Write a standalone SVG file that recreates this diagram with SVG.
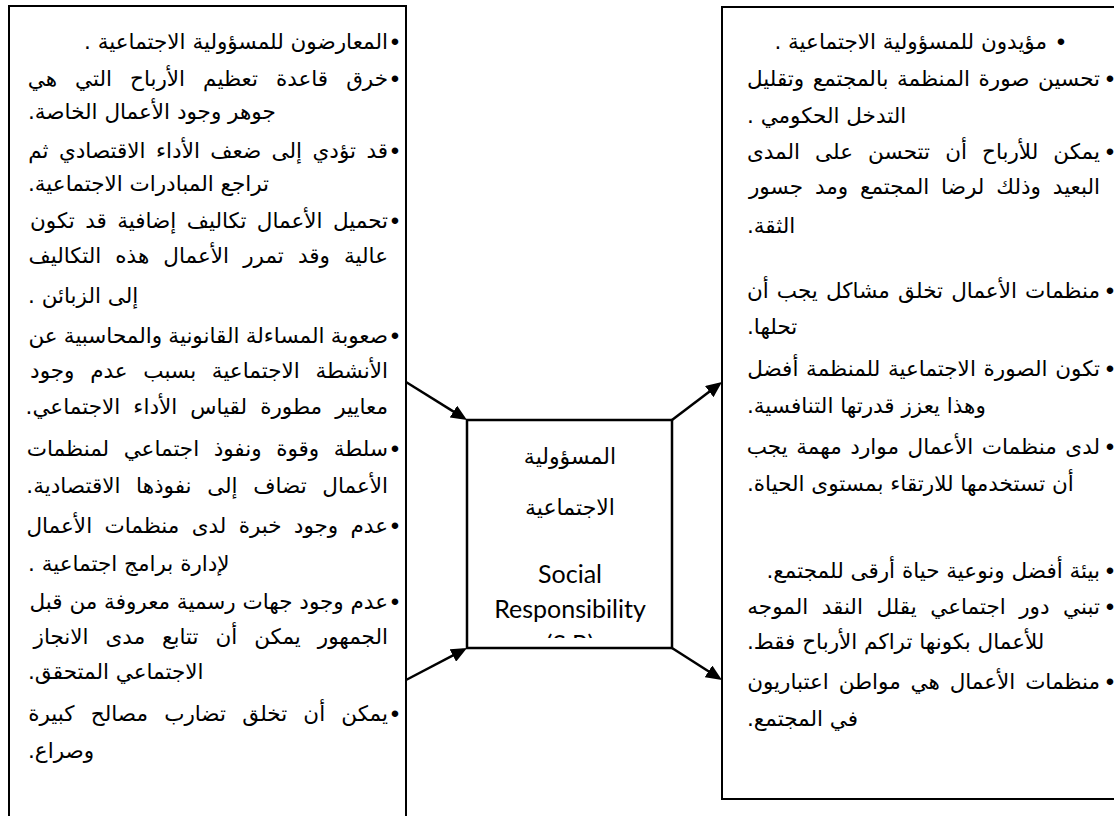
<svg xmlns="http://www.w3.org/2000/svg" width="1114" height="816" viewBox="0 0 1114 816">
<style>
.box{fill:#fff;stroke:#000;stroke-width:2}
.cbox{fill:#fff;stroke:#000;stroke-width:2.5}
.ar{font-family:"DejaVu Sans","Noto Sans",sans-serif;font-size:21.5px;fill:#000;direction:rtl;unicode-bidi:embed;text-anchor:start}
.al{font-family:"DejaVu Sans","Noto Sans",sans-serif;font-size:21.5px;fill:#000;direction:rtl;unicode-bidi:embed;text-anchor:end}
.bl{font-family:"Liberation Sans",sans-serif;font-size:24px;fill:#000;text-anchor:middle}
.car{font-family:"DejaVu Sans","Noto Sans",sans-serif;font-size:22px;fill:#000;text-anchor:middle;direction:rtl;unicode-bidi:embed}
.en{font-family:Lato,"Open Sans",sans-serif;font-size:25px;fill:#000;text-anchor:middle}
.conn{stroke:#000;stroke-width:2.5;fill:none;marker-end:url(#ah)}
</style>
<defs>
<marker id="ah" markerUnits="userSpaceOnUse" viewBox="0 0 16 14" refX="12" refY="7" markerWidth="16" markerHeight="14" orient="auto">
<path d="M0,0 L16,7 L0,14 z" fill="#000"/>
</marker>
<clipPath id="cclip"><rect x="468" y="421" width="203" height="217"/></clipPath>
</defs>
<rect width="1114" height="816" fill="#fff"/>

<g id="opponents">
<rect class="box" x="9" y="6" width="397" height="830"/>
<text class="bl" x="395" y="50">•</text><text class="ar" x="388" y="49">المعارضون للمسؤولية الاجتماعية .</text>
<text class="bl" x="395" y="87">•</text><text class="ar" x="388" y="86" word-spacing="11.2">خرق قاعدة تعظيم الأرباح التي هي</text>
<text class="al" x="28" y="119">جوهر وجود الأعمال الخاصة.</text>
<text class="bl" x="395" y="159">•</text><text class="ar" x="388" y="158" word-spacing="3.6">قد تؤدي إلى ضعف الأداء الاقتصادي ثم</text>
<text class="al" x="28" y="191">تراجع المبادرات الاجتماعية.</text>
<text class="bl" x="395" y="229">•</text><text class="ar" x="388" y="228" word-spacing="3.6">تحميل الأعمال تكاليف إضافية قد تكون</text>
<text class="ar" x="388" y="263" word-spacing="7.3">عالية وقد تمرر الأعمال هذه التكاليف</text>
<text class="al" x="28" y="303">إلى الزبائن .</text>
<text class="bl" x="395" y="344">•</text><text class="ar" x="388" y="343" word-spacing="-0.6">صعوبة المساءلة القانونية والمحاسبية عن</text>
<text class="ar" x="388" y="378" word-spacing="8.9">الأنشطة الاجتماعية بسبب عدم وجود</text>
<text class="ar" x="388" y="414" word-spacing="6.3">معايير مطورة لقياس الأداء الاجتماعي.</text>
<text class="bl" x="395" y="457">•</text><text class="ar" x="388" y="456" word-spacing="7.7">سلطة وقوة ونفوذ اجتماعي لمنظمات</text>
<text class="ar" x="388" y="493" word-spacing="8.8">الأعمال تضاف إلى نفوذها الاقتصادية.</text>
<text class="bl" x="395" y="534">•</text><text class="ar" x="388" y="533" word-spacing="5.5">عدم وجود خبرة لدى منظمات الأعمال</text>
<text class="al" x="28" y="571">لإدارة برامج اجتماعية .</text>
<text class="bl" x="395" y="610">•</text><text class="ar" x="388" y="609" word-spacing="0">عدم وجود جهات رسمية معروفة من قبل</text>
<text class="ar" x="388" y="644" word-spacing="10.1">الجمهور يمكن أن تتابع مدى الانجاز</text>
<text class="al" x="28" y="679">الاجتماعي المتحقق.</text>
<text class="bl" x="395" y="722">•</text><text class="ar" x="388" y="721" word-spacing="9.4">يمكن أن تخلق تضارب مصالح كبيرة</text>
<text class="al" x="28" y="758">وصراع.</text>
</g>

<g id="supporters">
<rect class="box" x="722" y="7" width="410" height="792"/>
<text class="bl" x="1061" y="50">•</text><text class="ar" x="1047" y="49">مؤيدون للمسؤولية الاجتماعية .</text>
<text class="bl" x="1110" y="87">•</text><text class="ar" x="1100" y="86" word-spacing="1.7">تحسين صورة المنظمة بالمجتمع وتقليل</text>
<text class="al" x="747" y="123">التدخل الحكومي .</text>
<text class="bl" x="1110" y="160">•</text><text class="ar" x="1100" y="159" word-spacing="8.3">يمكن للأرباح أن تتحسن على المدى</text>
<text class="ar" x="1100" y="194" word-spacing="5.1">البعيد وذلك لرضا المجتمع ومد جسور</text>
<text class="al" x="747" y="233">الثقة.</text>
<text class="bl" x="1110" y="299">•</text><text class="ar" x="1100" y="298" word-spacing="1.4">منظمات الأعمال تخلق مشاكل يجب أن</text>
<text class="al" x="747" y="334">تحلها.</text>
<text class="bl" x="1110" y="377">•</text><text class="ar" x="1100" y="376" word-spacing="0.9">تكون الصورة الاجتماعية للمنظمة أفضل</text>
<text class="al" x="747" y="413">وهذا يعزز قدرتها التنافسية.</text>
<text class="bl" x="1110" y="455">•</text><text class="ar" x="1100" y="454" word-spacing="1.8">لدى منظمات الأعمال موارد مهمة يجب</text>
<text class="al" x="747" y="491">أن تستخدمها للارتقاء بمستوى الحياة.</text>
<text class="bl" x="1110" y="579">•</text><text class="ar" x="1100" y="578">بيئة أفضل ونوعية حياة أرقى للمجتمع.</text>
<text class="bl" x="1110" y="615">•</text><text class="ar" x="1100" y="614" word-spacing="6.7">تبني دور اجتماعي يقلل النقد الموجه</text>
<text class="al" x="747" y="649">للأعمال بكونها تراكم الأرباح فقط.</text>
<text class="bl" x="1110" y="690">•</text><text class="ar" x="1100" y="689" word-spacing="3">منظمات الأعمال هي مواطن اعتباريون</text>
<text class="al" x="747" y="726">في المجتمع.</text>
</g>

<g id="social-responsibility">
<rect class="cbox" x="467" y="420" width="205" height="228"/>
<g clip-path="url(#cclip)">
<text class="car" x="570" y="464">المسؤولية</text>
<text class="car" x="570" y="515">الاجتماعية</text>
<text class="en" x="570" y="583">Social</text>
<text class="en" x="570" y="618">Responsibility</text>
<text class="en" x="570" y="653">(S.R)</text>
</g>
</g>

<g id="connectors">
<line class="conn" x1="406" y1="382" x2="463.6" y2="417.9"/>
<line class="conn" x1="672" y1="420" x2="718.8" y2="384.4"/>
<line class="conn" x1="406" y1="680" x2="463.5" y2="649.9"/>
<line class="conn" x1="672" y1="648" x2="718.6" y2="677.8"/>
</g>
</svg>
